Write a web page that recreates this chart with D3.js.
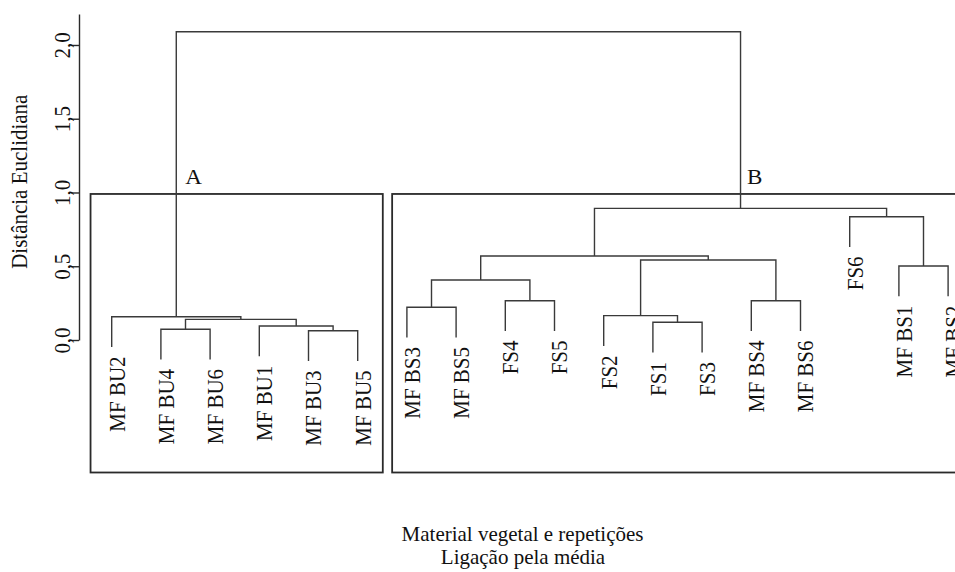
<!DOCTYPE html>
<html><head><meta charset="utf-8">
<script src="https://cdn.jsdelivr.net/npm/d3@7/dist/d3.min.js"></script>
<style>
body{margin:0;background:#fff}
svg{display:block;background:#fff}
text{font-family:"Liberation Serif","Times New Roman",serif;fill:#111}
</style>
</head><body>
<svg id="chart" width="955" height="572"></svg>
<script>
// ---- data ----
const leafOrder = ["MF BU2","MF BU4","MF BU6","MF BU1","MF BU3","MF BU5",
  "MF BS3","MF BS5","FS4","FS5","FS2","FS1","FS3","MF BS4","MF BS6","FS6","MF BS1","MF BS2"];
const mergeIds    = ["m1","m2","m3","m4","m5","m6","m7","m8","m9","m10","m11","m12","m13","m14","m15","m16","m17"];
const mergeLeft   = ["MF BU3","MF BU4","MF BU1","m2","MF BU2","FS1","FS2","MF BS3","FS4","MF BS4","m8","MF BS1","m7","m11","FS6","m14","m5"];
const mergeRight  = ["MF BU5","MF BU6","m1","m3","m4","FS3","m6","MF BS5","FS5","MF BS6","m9","MF BS2","m10","m13","m12","m15","m16"];
const mergeHeight = [0.063,0.073,0.095,0.140,0.158,0.120,0.165,0.222,0.266,0.266,0.407,0.502,0.542,0.569,0.836,0.892,2.090];
const tickValues = [0,0.5,1,1.5,2];
const tickLabels = ["0,0","0,5","1,0","1,5","2,0"];
const clusterNames = ["A","B"];
const clusterRoots = ["m5","m16"];
const clusterFirst = ["MF BU2","MF BS3"];
const clusterLast  = ["MF BU5","MF BS2"];
const cutHeight = 0.99;
const hang = 0.205;

// ---- layout ----
const svg = d3.select("#chart");
const SX = 1.05; // horizontal stretch of the original picture's glyphs
const y = d3.scaleLinear().domain([0, 2.21]).range([340, 14]);
const x = d3.scaleLinear().domain([0, leafOrder.length - 1]).range([111.7, 948.1]);
const boxBottom = 472.5;

const pos = {};
leafOrder.forEach((n, i) => pos[n] = {x: x(i), leaf: true});
mergeIds.forEach((id, i) => {
  const a = pos[mergeLeft[i]], b = pos[mergeRight[i]], h = mergeHeight[i];
  [a, b].forEach(c => { if (c.leaf) c.top = h - hang; });
  pos[id] = {x: (a.x + b.x) / 2, top: h, leaf: false};
});

// boxes
const boxG = svg.append("g");
clusterNames.forEach((name, k) => {
  const i0 = leafOrder.indexOf(clusterFirst[k]), i1 = leafOrder.indexOf(clusterLast[k]);
  const step = x(1) - x(0);
  const left = x(i0) - (k === 0 ? 0.43 : 0.30) * step;
  const right = k === 0 ? x(i1) + 0.51 * step : 960;
  boxG.append("rect")
    .attr("x", left).attr("y", y(cutHeight))
    .attr("width", right - left).attr("height", boxBottom - y(cutHeight))
    .attr("fill", "none").attr("stroke", "#2a2a2a").attr("stroke-width", 1.8);
  const r = pos[clusterRoots[k]];
  boxG.append("text")
    .attr("transform", `translate(${r.x + (k === 0 ? 9 : 6.5)},${183.8}) scale(${SX},1)`)
    .style("font-size", "22px").text(name);
});

// dendrogram links
const linkG = svg.append("g").attr("fill", "none").attr("stroke", "#3a3a3a").attr("stroke-width", 1.4);
mergeIds.forEach((id, i) => {
  const a = pos[mergeLeft[i]], b = pos[mergeRight[i]], h = mergeHeight[i];
  linkG.append("path").attr("d",
    `M${a.x},${y(a.top)}V${y(h)}H${b.x}V${y(b.top)}`);
});

// leaf labels
const labG = svg.append("g");
leafOrder.forEach(n => {
  const p = pos[n];
  labG.append("text")
    .attr("transform", `translate(${p.x + 12.8},${y(p.top) + 9.5}) scale(${SX},1) rotate(-90)`)
    .attr("text-anchor", "end")
    .style("font-size", "21px").text(n);
});

// y axis
const axis = d3.axisLeft(y).tickValues(tickValues)
  .tickFormat((d, i) => tickLabels[i]).tickSize(8).tickSizeOuter(0);
const ax = svg.append("g").attr("transform", "translate(79,0)").call(axis);
ax.attr("color", "#2a2a2a");
ax.select(".domain").attr("stroke-width", 1.4);
ax.selectAll(".tick line").attr("stroke-width", 1.4);
ax.selectAll(".tick text")
  .attr("x", null).attr("dy", null)
  .attr("transform", `translate(-9.5,0) scale(${SX},1) rotate(-90)`)
  .attr("text-anchor", "middle")
  .style("font-size", "21px").style("fill", "#111");

// titles
svg.append("text")
  .attr("transform", `translate(26.7,181.7) scale(${SX},1) rotate(-90)`)
  .attr("text-anchor", "middle").style("font-size", "21px")
  .text("Distância Euclidiana");
svg.append("text")
  .attr("transform", `translate(522.5,540.5) scale(${SX},1)`)
  .attr("text-anchor", "middle").style("font-size", "20px")
  .text("Material vegetal e repetições");
svg.append("text")
  .attr("transform", `translate(523,563.5) scale(${SX},1)`)
  .attr("text-anchor", "middle").style("font-size", "20px")
  .text("Ligação pela média");
</script>
</body></html>
